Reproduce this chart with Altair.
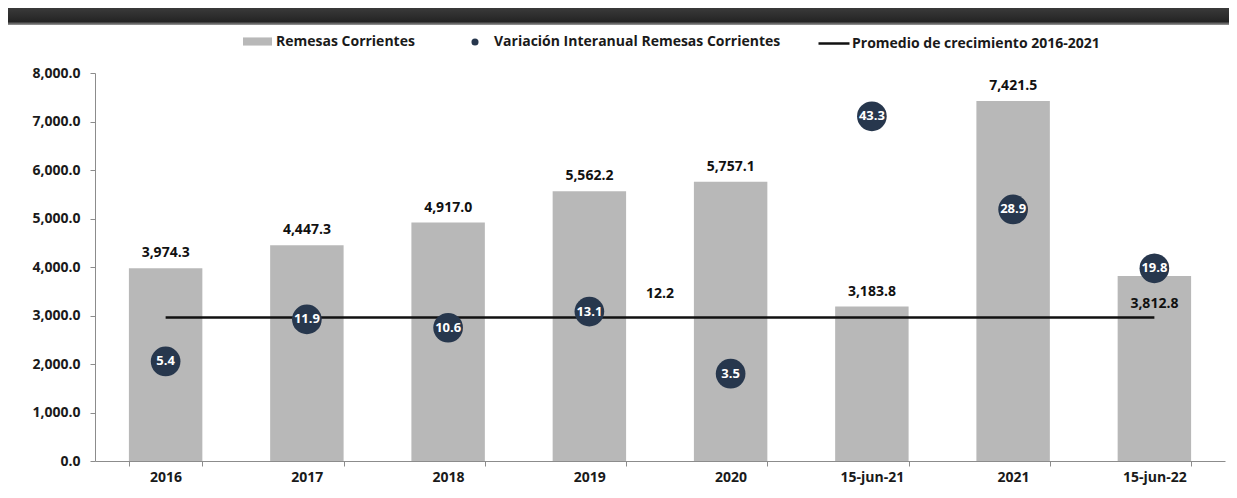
import altair as alt
import pandas as pd

# ---- data ----
categorias = ["2016", "2017", "2018", "2019", "2020", "15-jun-21", "2021", "15-jun-22"]
remesas = [3974.3, 4447.3, 4917.0, 5562.2, 5757.1, 3183.8, 7421.5, 3812.8]
variacion = [5.4, 11.9, 10.6, 13.1, 3.5, 43.3, 28.9, 19.8]
promedio = 12.2
serie_barras = "Remesas Corrientes"
serie_puntos = "Variación Interanual Remesas Corrientes"
serie_linea = "Promedio de crecimiento 2016-2021"

df = pd.DataFrame({
    "cat": categorias,
    "remesas": remesas,
    "variacion": variacion,
    "s_bar": serie_barras,
    "s_pt": serie_puntos,
})
line_df = pd.DataFrame({
    "cat": [categorias[0], categorias[-1]],
    "prom": [promedio, promedio],
    "s_line": serie_linea,
})
avg_df = pd.DataFrame({"cat": ["2019"], "prom": [promedio]})
band_df = pd.DataFrame({"a": [0]})

FONT = "Open Sans"
W, H = 1130, 388

x_axis = alt.Axis(
    title=None, labelAngle=0, tickBand="extent", tickSize=5,
    labelPadding=4, labelFont=FONT, labelFontSize=14, labelFontWeight="bold",
    labelColor="#1a1a1a", domainColor="#8c8c8c", tickColor="#8c8c8c",
    grid=False,
)
x_scale = alt.Scale(paddingInner=0.48, paddingOuter=0.24)
x_enc = alt.X("cat:N", sort=categorias, scale=x_scale, axis=x_axis)

prim_scale = alt.Scale(domain=[0, 8000], nice=False)
sec_scale = alt.Scale(domain=[-10, 50], nice=False)

legend_common = dict(
    orient="none", title=None, padding=0, labelLimit=0,
    labelFont=FONT, labelFontSize=14, labelFontWeight="bold",
    labelColor="#1a1a1a",
)

band = alt.Chart(band_df).mark_rect(
    fill=alt.LinearGradient(
        gradient="linear", x1=0, x2=0, y1=0, y2=1,
        stops=[
            alt.GradientStop(color="#3a3a3a", offset=0),
            alt.GradientStop(color="#242424", offset=0.8),
            alt.GradientStop(color="#9a9a9a", offset=1),
        ],
    )
).encode(
    x=alt.value(-87), x2=alt.value(W + 4), y=alt.value(-65), y2=alt.value(-48)
)

bars = alt.Chart(df).mark_bar(color="#b8b8b8").encode(
    x=x_enc,
    y=alt.Y(
        "remesas:Q", scale=prim_scale,
        axis=alt.Axis(
            title=None, values=list(range(0, 8001, 1000)), format=",.1f",
            tickSize=5, labelPadding=10, labelFont=FONT, labelFontSize=14,
            labelFontWeight="bold", labelColor="#1a1a1a",
            domainColor="#8c8c8c", tickColor="#8c8c8c", grid=False,
        ),
    ),
    color=alt.Color(
        "s_bar:N", scale=alt.Scale(range=["#b8b8b8"]),
        legend=alt.Legend(
            legendX=148, legendY=-46,
            symbolType="M-1,-0.28H1V0.28H-1Z", symbolSize=841,
            symbolStrokeWidth=0, labelOffset=4, **legend_common,
        ),
    ),
)

bar_text = alt.Chart(df).transform_filter(
    alt.datum.cat != categorias[-1]
).mark_text(
    font=FONT, fontSize=14, fontWeight="bold", color="#111111",
    baseline="middle", dy=-15,
).encode(
    x=x_enc,
    y=alt.Y("remesas:Q", scale=prim_scale, axis=None),
    text=alt.Text("remesas:Q", format=",.1f"),
)

bar_text_last = alt.Chart(df).transform_filter(
    alt.datum.cat == categorias[-1]
).mark_text(
    font=FONT, fontSize=14, fontWeight="bold", color="#111111",
    baseline="middle", dy=28,
).encode(
    x=x_enc,
    y=alt.Y("remesas:Q", scale=prim_scale, axis=None),
    text=alt.Text("remesas:Q", format=",.1f"),
)

line = alt.Chart(line_df).mark_line(strokeWidth=2.5).encode(
    x=x_enc,
    y=alt.Y("prom:Q", scale=sec_scale, axis=None),
    color=alt.Color(
        "s_line:N", scale=alt.Scale(range=["#111111"]),
        legend=alt.Legend(
            legendX=722, legendY=-46.5,
            symbolType="stroke", symbolSize=961, symbolStrokeWidth=2.5,
            labelOffset=1, **legend_common,
        ),
    ),
)

avg_text = alt.Chart(avg_df).mark_text(
    font=FONT, fontSize=14, fontWeight="bold", color="#111111",
    baseline="middle", dy=-23, dx=34,
).encode(
    x=alt.X("cat:N", sort=categorias, bandPosition=1, scale=x_scale, axis=x_axis),
    y=alt.Y("prom:Q", scale=sec_scale, axis=None),
    text=alt.Text("prom:Q", format=".1f"),
)

points = alt.Chart(df).mark_circle(size=880, opacity=1).encode(
    x=x_enc,
    y=alt.Y("variacion:Q", scale=sec_scale, axis=None),
    color=alt.Color(
        "s_pt:N", scale=alt.Scale(range=["#27374d"]),
        legend=alt.Legend(
            legendX=373, legendY=-38,
            symbolType="circle", symbolSize=50, symbolOpacity=1,
            labelOffset=12, **legend_common,
        ),
    ),
)

point_text = alt.Chart(df).mark_text(
    font=FONT, fontSize=13, fontWeight="bold", color="white", baseline="middle",
).encode(
    x=x_enc,
    y=alt.Y("variacion:Q", scale=sec_scale, axis=None),
    text=alt.Text("variacion:Q", format=".1f"),
)

chart = alt.layer(
    band, bars, bar_text, bar_text_last, line, avg_text, points, point_text
).resolve_scale(
    y="independent", color="independent"
).properties(
    width=W, height=H,
    padding={"left": 87, "top": 65, "right": 4, "bottom": 26},
    autosize=alt.AutoSizeParams(type="none"),
    background="white",
).configure_view(stroke=None)

chart.save("out.html", embed_options={"renderer": "svg", "actions": False})
